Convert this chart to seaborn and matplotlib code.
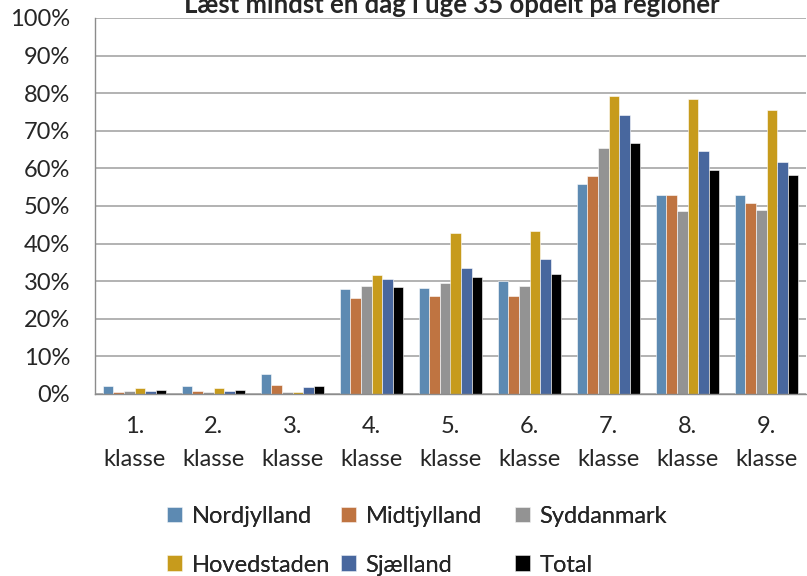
import matplotlib
matplotlib.use('Agg')
import matplotlib.pyplot as plt
import matplotlib.ticker as mticker
import seaborn as sns
import pandas as pd

# Data (andel i %)
klasser = ['1.\nklasse', '2.\nklasse', '3.\nklasse', '4.\nklasse', '5.\nklasse',
           '6.\nklasse', '7.\nklasse', '8.\nklasse', '9.\nklasse']
regioner = ['Nordjylland', 'Midtjylland', 'Syddanmark', 'Hovedstaden', 'Sjælland', 'Total']
nordjylland = [2.0, 2.0, 5.2, 27.8, 28.1, 30.1, 55.9, 52.9, 52.9]
midtjylland = [0.5, 0.9, 2.3, 25.4, 26.0, 26.1, 58.0, 52.8, 50.9]
syddanmark = [0.7, 0.6, 0.6, 28.6, 29.4, 28.8, 65.4, 48.6, 49.0]
hovedstaden = [1.5, 1.5, 0.5, 31.7, 42.9, 43.4, 79.3, 78.5, 75.4]
sjaelland = [0.9, 0.8, 1.8, 30.7, 33.6, 35.9, 74.3, 64.6, 61.8]
total = [1.0, 1.1, 2.0, 28.4, 31.2, 31.9, 66.8, 59.7, 58.2]

farver = ['#4F8BC0', '#D4702C', '#939393', '#E3A900', '#3A63AC', '#000000']

rows = []
for region, vals in zip(regioner, [nordjylland, midtjylland, syddanmark,
                                   hovedstaden, sjaelland, total]):
    for k, v in zip(klasser, vals):
        rows.append({'klasse': k, 'region': region, 'andel': v})
df = pd.DataFrame(rows)

sns.set_style('white')
plt.rcParams['font.family'] = ['Lato', 'DejaVu Sans']

fig = plt.figure(figsize=(8.07, 5.76), dpi=100)
ax = fig.add_axes([95 / 807, 1 - 394 / 576, 711 / 807, 376 / 576])

sns.barplot(data=df, x='klasse', y='andel', hue='region', palette=farver,
            width=0.8, edgecolor='white', linewidth=0.4, ax=ax, legend=True)

ax.set_ylim(0, 100)
ax.set_xlim(-0.5, len(klasser) - 0.5)
ax.yaxis.set_major_locator(mticker.MultipleLocator(10))
ax.yaxis.set_major_formatter(mticker.FuncFormatter(lambda v, p: f'{v:.0f}%'))
ax.grid(axis='y', color='#A6A6A6', linewidth=1.2)
ax.set_axisbelow(True)
ax.set_xlabel('')
ax.set_ylabel('')

for s in ['top', 'right']:
    ax.spines[s].set_visible(False)
for s in ['left', 'bottom']:
    ax.spines[s].set_color('#8C8C8C')
    ax.spines[s].set_linewidth(1.0)

ax.tick_params(axis='y', labelsize=17, length=6, width=1.2, color='#A6A6A6',
               direction='out', pad=12)
ax.tick_params(axis='x', which='major', labelsize=17, length=0, pad=16)
ax.set_xticks([i + 0.5 for i in range(len(klasser) - 1)], minor=True)
ax.tick_params(axis='x', which='minor', length=6, color='#8C8C8C', direction='out')
for lbl in ax.get_xticklabels():
    lbl.set_linespacing(1.7)

handles, labels = ax.get_legend_handles_labels()
ax.get_legend().remove()
# tre kolonner med faste positioner (som i Excel)
kolonne_x = [162, 336, 510]
for i, x in enumerate(kolonne_x):
    leg = fig.legend([handles[i], handles[i + 3]], [labels[i], labels[i + 3]],
                     loc='upper left', bbox_to_anchor=(x / 807, 1 - 501 / 576),
                     ncol=1, frameon=False, fontsize=17, handlelength=0.65,
                     handleheight=0.65, handletextpad=0.4, labelspacing=1.18,
                     borderaxespad=0, borderpad=0.2)
    fig.add_artist(leg)

fig.text(452 / 807, 1 - 13 / 576, 'Læst mindst én dag i uge 35 opdelt på regioner',
         ha='center', va='baseline', fontsize=18.5, fontweight='bold')

fig.savefig('out.png', dpi=100)
